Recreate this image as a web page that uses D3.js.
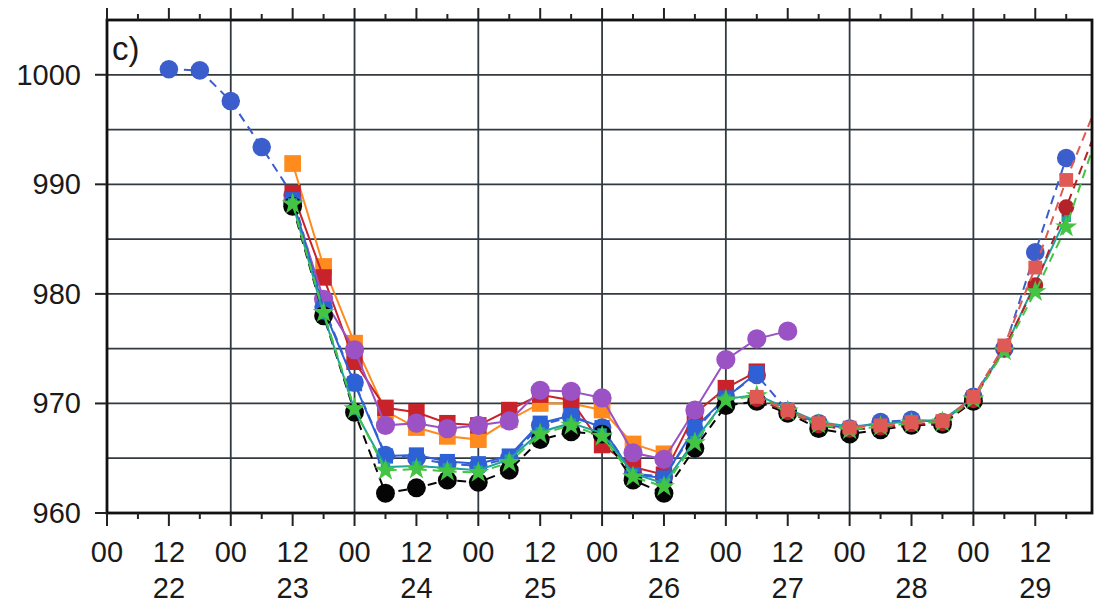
<!DOCTYPE html>
<html>
<head>
<meta charset="utf-8">
<script src="https://cdn.jsdelivr.net/npm/d3@7"></script>
<style>
  body { margin: 0; background: #fff; }
  text { font-family: "Liberation Sans", Arial, sans-serif; fill: #1a1a1a; }
</style>
</head>
<body>
<svg id="plot" width="1098" height="605"></svg>
<script>
// 6-hourly times, day + hour
const times = [
  '22 00', '22 06', '22 12', '22 18', '23 00', '23 06', '23 12', '23 18',
  '24 00', '24 06', '24 12', '24 18', '25 00', '25 06', '25 12', '25 18',
  '26 00', '26 06', '26 12', '26 18', '27 00', '27 06', '27 12', '27 18',
  '28 00', '28 06', '28 12', '28 18', '29 00', '29 06', '29 12', '29 18', '30 00'
];

const yTicks = [960, 970, 980, 990, 1000];
const hourLabels = ['00', '12'];
const dayLabels = ['22', '23', '24', '25', '26', '27', '28', '29'];

// each series: start time + pressures (hPa)
const obsStart = '22 12';
const obsValues = [1000.5, 1000.4, 997.6, 993.4, 989.0, 978.8, 971.9, 965.3, 965.0, 964.5, 964.3, 965.0,
  968.0, 968.8, 967.8, 963.6, 963.3, 967.5, 970.6, 972.6, 969.3, 968.2, 967.7, 968.3, 968.5, 968.3,
  970.6, 975.0, 983.8, 992.4];

const orangeStart = '23 12';
const orangeValues = [991.9, 982.5, 975.5, 969.3, 967.8, 967.0, 966.7, 968.5, 970.0, 970.0, 969.4, 966.3, 965.4];

const redStart = '23 12';
const redValues = [989.2, 981.5, 973.8, 969.6, 969.2, 968.2, 968.0, 969.4, 970.8, 970.3, 966.2, 964.2,
  963.5, 969.1, 971.4, 972.9];

const purpleStart = '23 12';
const purpleValues = [988.4, 979.5, 974.9, 968.0, 968.2, 967.7, 968.0, 968.4, 971.2, 971.1, 970.5, 965.5,
  964.9, 969.4, 974.0, 975.9, 976.6];

const blueStart = '23 12';
const blueValues = [988.6, 978.6, 971.8, 965.2, 965.3, 964.7, 964.5, 965.2, 968.2, 968.9, 967.8, 963.5,
  963.2, 967.8, 970.5, 972.8];

const blackStart = '23 12';
const blackValues = [988.0, 978.0, 969.2, 961.8, 962.3, 963.0, 962.8, 963.9, 966.7, 967.4, 967.2, 963.0,
  961.8, 965.9, 969.8, 970.2, 969.1, 967.7, 967.2, 967.6, 968.0, 968.1, 970.2];

const tealStart = '23 12';
const tealValues = [988.3, 978.1, 969.4, 964.2, 964.3, 964.1, 963.9, 964.9, 967.4, 968.2, 967.3, 963.6,
  962.7, 966.6, 970.4, 970.8, 969.5, 968.3, 967.9, 968.1, 968.4, 968.5, 970.5, 974.9, 981.0, 987.0];

const greenStart = '23 12';
const greenValues = [988.2, 978.3, 969.5, 963.9, 964.0, 963.8, 963.7, 964.6, 967.2, 968.0, 967.0, 963.3,
  962.4, 966.4, 970.3, 970.7, 969.3, 968.1, 967.6, 967.9, 968.2, 968.3, 970.4, 974.8, 980.2, 986.1, 994.5];

const late1Start = '27 06';
const late1Values = [970.6, 969.4, 968.2, 967.8, 968.0, 968.3, 968.4, 970.6, 975.3, 982.4, 990.4, 997.3];

const late2Start = '27 06';
const late2Values = [970.4, 969.2, 968.0, 967.6, 967.8, 968.1, 968.2, 970.3, 975.0, 980.8, 987.9, 995.2];

const parseT = (s) => {
  const [d, h] = s.split(' ').map(Number);
  return new Date(Date.UTC(2000, 0, d, h));
};

const toPoints = (start, values) => {
  const i0 = times.indexOf(start);
  return values.map((v, i) => ({ t: parseT(times[i0 + i]), v }));
};

const series = [
  { pts: toPoints(obsStart, obsValues), color: '#3c5dcc', dash: '9,6', sym: d3.symbolCircle, size: 270 },
  { pts: toPoints(orangeStart, orangeValues), color: '#ff8a1e', dash: null, sym: d3.symbolSquare, size: 280 },
  { pts: toPoints(redStart, redValues), color: '#c8232b', dash: null, sym: d3.symbolSquare, size: 270 },
  { pts: toPoints(purpleStart, purpleValues), color: '#9a52c4', dash: null, sym: d3.symbolCircle, size: 290 },
  { pts: toPoints(blueStart, blueValues), color: '#2d62d6', dash: null, sym: d3.symbolSquare, size: 230 },
  { pts: toPoints(blackStart, blackValues), color: '#050505', dash: '9,6', sym: d3.symbolCircle, size: 280 },
  { pts: toPoints(tealStart, tealValues), color: '#1fa39b', dash: null, sym: d3.symbolSquare, size: 90 },
  { pts: toPoints(late2Start, late2Values), color: '#b5222a', dash: '9,6', sym: d3.symbolCircle, size: 200 },
  { pts: toPoints(greenStart, greenValues), color: '#43c543', dash: '9,6', sym: d3.symbolStar, size: 150 },
  { pts: toPoints(late1Start, late1Values), color: '#e05a55', dash: '9,6', sym: d3.symbolSquare, size: 190 },
];

const svg = d3.select('#plot');
const mLeft = 107, mRight = 1092, mTop = 20, mBottom = 513;
const tEnd = new Date(Date.UTC(2000, 0, 29, 23));

const x = d3.scaleUtc()
  .domain([parseT('22 00'), tEnd])
  .range([mLeft, mRight]);
const y = d3.scaleLinear().domain([960, 1005]).range([mBottom, mTop]);

svg.append('defs').append('clipPath').attr('id', 'clip')
  .append('rect').attr('x', mLeft).attr('y', mTop).attr('width', mRight - mLeft).attr('height', mBottom - mTop);

// grid
const dayTicks = d3.utcDay.range(parseT('22 00'), parseT('30 00'));
svg.append('g').selectAll('line').data(dayTicks).join('line')
  .attr('x1', (d) => x(d)).attr('x2', (d) => x(d)).attr('y1', mTop).attr('y2', mBottom)
  .attr('stroke', '#323a40').attr('stroke-width', 1.8);
svg.append('g').selectAll('line').data(d3.range(965, 1005, 5)).join('line')
  .attr('x1', mLeft).attr('x2', mRight).attr('y1', (d) => y(d)).attr('y2', (d) => y(d))
  .attr('stroke', '#323a40').attr('stroke-width', 1.8);

// series
const plot = svg.append('g').attr('clip-path', 'url(#clip)');
const line = d3.line().x((d) => x(d.t)).y((d) => y(d.v));
series.forEach((s) => {
  plot.append('path').datum(s.pts)
    .attr('d', line).attr('fill', 'none')
    .attr('stroke', s.color).attr('stroke-width', 2)
    .attr('stroke-dasharray', s.dash);
  plot.append('g').selectAll('path').data(s.pts.filter((d) => d.t <= tEnd)).join('path')
    .attr('transform', (d) => `translate(${x(d.t)},${y(d.v)})`)
    .attr('d', d3.symbol().type(s.sym).size(s.size))
    .attr('fill', s.color);
});

// frame
svg.append('rect').attr('x', mLeft).attr('y', mTop).attr('width', mRight - mLeft).attr('height', mBottom - mTop)
  .attr('fill', 'none').attr('stroke', '#111').attr('stroke-width', 2.8);

// time ticks top and bottom
const sixH = d3.utcHour.every(6).range(parseT('22 00'), tEnd);
const isMajor = (d) => d.getUTCHours() % 12 === 0;
svg.append('g').selectAll('line').data(sixH).join('line')
  .attr('x1', (d) => x(d)).attr('x2', (d) => x(d))
  .attr('y1', mTop).attr('y2', (d) => (isMajor(d) ? mTop - 12 : mTop - 6))
  .attr('stroke', '#222').attr('stroke-width', 2);
svg.append('g').selectAll('line').data(sixH).join('line')
  .attr('x1', (d) => x(d)).attr('x2', (d) => x(d))
  .attr('y1', mBottom).attr('y2', (d) => (isMajor(d) ? mBottom + 13 : mBottom + 6))
  .attr('stroke', '#222').attr('stroke-width', 2);

// hour labels
const twelveH = sixH.filter(isMajor);
svg.append('g').selectAll('text').data(twelveH).join('text')
  .attr('x', (d) => x(d)).attr('y', 562)
  .attr('text-anchor', 'middle').attr('font-size', 29)
  .text((d) => hourLabels[d.getUTCHours() / 12]);

// day labels under 12
svg.append('g').selectAll('text').data(dayLabels).join('text')
  .attr('x', (d) => x(parseT(d + ' 12'))).attr('y', 598)
  .attr('text-anchor', 'middle').attr('font-size', 29)
  .text((d) => d);

// y axis
svg.append('g').selectAll('line').data(yTicks).join('line')
  .attr('x1', mLeft - 12).attr('x2', mLeft).attr('y1', (d) => y(d)).attr('y2', (d) => y(d))
  .attr('stroke', '#222').attr('stroke-width', 2);
svg.append('g').selectAll('text').data(yTicks).join('text')
  .attr('x', 81).attr('y', (d) => y(d) + 10)
  .attr('text-anchor', 'end').attr('font-size', 29)
  .text((d) => d);

svg.append('text').attr('x', 112).attr('y', 60).attr('font-size', 33).text('c)');
</script>
</body>
</html>
